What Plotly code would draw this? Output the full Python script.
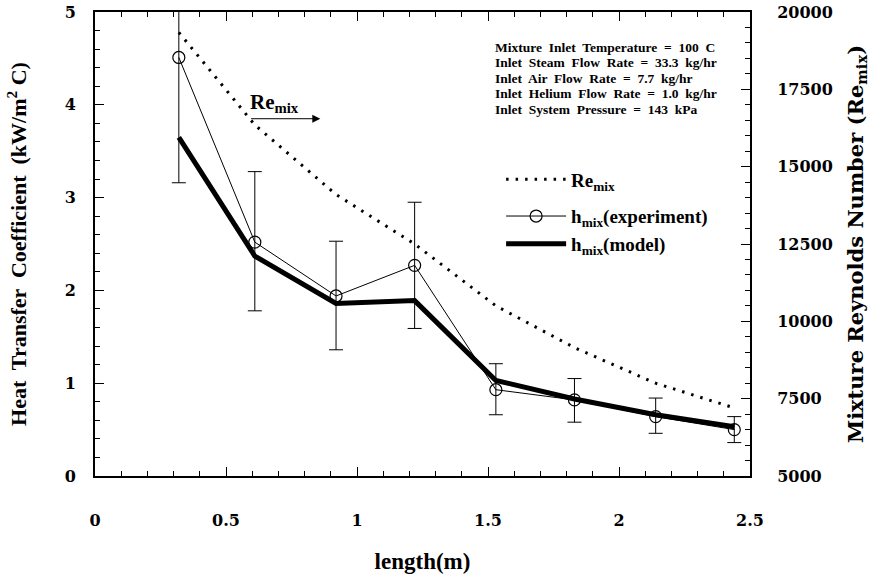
import plotly.graph_objects as go

# ---- data ----
length_m = [0.32, 0.61, 0.92, 1.22, 1.53, 1.83, 2.14, 2.44]
h_exp = [4.51, 2.52, 1.94, 2.27, 0.93, 0.82, 0.64, 0.50]
h_exp_hi = [5.40, 3.28, 2.53, 2.95, 1.21, 1.05, 0.84, 0.64]
h_exp_lo = [3.16, 1.78, 1.36, 1.59, 0.66, 0.58, 0.46, 0.36]
h_model = [3.65, 2.37, 1.86, 1.89, 1.03, 0.83, 0.66, 0.53]
re_mix = [19340, 16350, 14100, 12500, 10500, 9150, 8000, 7200]

x_ticks = [0, 0.5, 1, 1.5, 2, 2.5]
x_ticklabels = ["0", "0.5", "1", "1.5", "2", "2.5"]
y_ticks = [0, 1, 2, 3, 4, 5]
y_ticklabels = ["0", "1", "2", "3", "4", "5"]
y2_ticks = [5000, 7500, 10000, 12500, 15000, 17500, 20000]
y2_ticklabels = ["5000", "7500", "10000", "12500", "15000", "17500", "20000"]

info_lines = [
    "Mixture  Inlet  Temperature  =  100  C",
    "Inlet  Steam  Flow  Rate  =  33.3  kg/hr",
    "Inlet  Air  Flow  Rate  =  7.7  kg/hr",
    "Inlet  Helium  Flow  Rate  =  1.0  kg/hr",
    "Inlet  System  Pressure  =  143  kPa",
]

SERIF = "Liberation Serif"
WIDE = "DejaVu Serif"
W, H = 876, 579
ML, MR, MT, MB = 95, 126, 12, 103

err_plus = [h - v for h, v in zip(h_exp_hi, h_exp)]
err_minus = [v - l for l, v in zip(h_exp_lo, h_exp)]

fig = go.Figure()
fig.add_trace(go.Scatter(
    x=length_m, y=re_mix, yaxis="y2", mode="lines",
    line=dict(color="black", width=3, dash="2.5px,7px"),
    name="Re<sub>mix</sub>", legendgroup="re"))
fig.add_trace(go.Scatter(
    x=length_m, y=h_exp, mode="lines+markers",
    line=dict(color="black", width=1),
    marker=dict(symbol="circle-open", size=12, color="black", line=dict(width=1.2)),
    error_y=dict(type="data", symmetric=False, array=err_plus, arrayminus=err_minus,
                 color="black", thickness=1, width=7),
    name="h<sub>mix</sub>(experiment)", legendgroup="h"))
fig.add_trace(go.Scatter(
    x=length_m, y=h_model, mode="lines",
    line=dict(color="black", width=5),
    name="h<sub>mix</sub>(model)", legendgroup="h"))

tickfont = dict(family=WIDE, size=16, color="black", weight="bold")
titlefont = dict(family=SERIF, size=22, color="black", weight="bold")

fig.update_layout(
    width=W, height=H,
    margin=dict(l=ML, r=MR, t=MT, b=MB, autoexpand=False),
    paper_bgcolor="white", plot_bgcolor="white",
    showlegend=True,
    legend=dict(x=0.62, y=0.68, xanchor="left", yanchor="top",
                bgcolor="rgba(0,0,0,0)", borderwidth=0,
                traceorder="grouped", tracegroupgap=9,
                font=dict(family=SERIF, size=19, color="black", weight="bold"),
                itemwidth=60),
    xaxis=dict(range=[0, 2.5], tickvals=x_ticks, ticktext=x_ticklabels,
               ticks="inside", ticklen=9, tickwidth=1, tickcolor="black",
               minor=dict(dtick=0.1, ticks="inside", ticklen=5, tickcolor="black"),
               showline=True, linecolor="black", linewidth=2, mirror="ticks",
               showgrid=False, zeroline=False, tickfont=tickfont, automargin=False,
               ticklabelstandoff=29,
               title=dict(text="length(m)", font=dict(family=SERIF, size=23, color="black", weight="bold"),
                          standoff=24)),
    yaxis=dict(range=[0, 5], tickvals=y_ticks, ticktext=y_ticklabels,
               ticks="inside", ticklen=9, tickwidth=1, tickcolor="black",
               minor=dict(dtick=0.2, ticks="inside", ticklen=5, tickcolor="black"),
               showline=True, linecolor="black", linewidth=2, mirror=True,
               showgrid=False, zeroline=False, tickfont=tickfont, automargin=False,
               ticklabelstandoff=14,
               title=dict(text="Heat  Transfer  Coefficient  (kW/m<sup>2</sup> C)",
                          font=titlefont, standoff=32)),
    yaxis2=dict(range=[5000, 20000], tickvals=y2_ticks, ticktext=y2_ticklabels,
                overlaying="y", side="right",
                ticks="inside", ticklen=9, tickwidth=1, tickcolor="black",
                minor=dict(dtick=500, ticks="inside", ticklen=5, tickcolor="black"),
                showline=True, linecolor="black", linewidth=2,
                showgrid=False, zeroline=False, tickfont=tickfont, automargin=False,
                ticklabelstandoff=22,
                title=dict(text="Mixture Reynolds Number (Re<sub>mix</sub>)",
                           font=dict(family=WIDE, size=21, color="black", weight="bold"),
                           standoff=16)),
)

# info text block, one line at a time
plot_h = H - MT - MB
for i, line in enumerate(info_lines):
    ypix = 47 + 15.5 * i
    fig.add_annotation(
        x=0.607, y=(H - MB - ypix) / plot_h, xref="paper", yref="paper",
        xanchor="left", yanchor="middle",
        text=line, showarrow=False, align="left",
        font=dict(family=SERIF, size=13.5, color="black", weight="bold"))

# Re_mix direction label and arrow
fig.add_annotation(
    x=0.585, y=4.02, xref="x", yref="y", xanchor="left", yanchor="middle",
    text="Re<sub>mix</sub>", showarrow=False,
    font=dict(family=SERIF, size=21, color="black", weight="bold"))
fig.add_annotation(
    x=0.86, y=3.85, ax=0.59, ay=3.85, xref="x", yref="y", axref="x", ayref="y",
    text="", showarrow=True, arrowhead=2, arrowsize=1.6, arrowwidth=1, arrowcolor="black")

fig.write_html("out.html")
